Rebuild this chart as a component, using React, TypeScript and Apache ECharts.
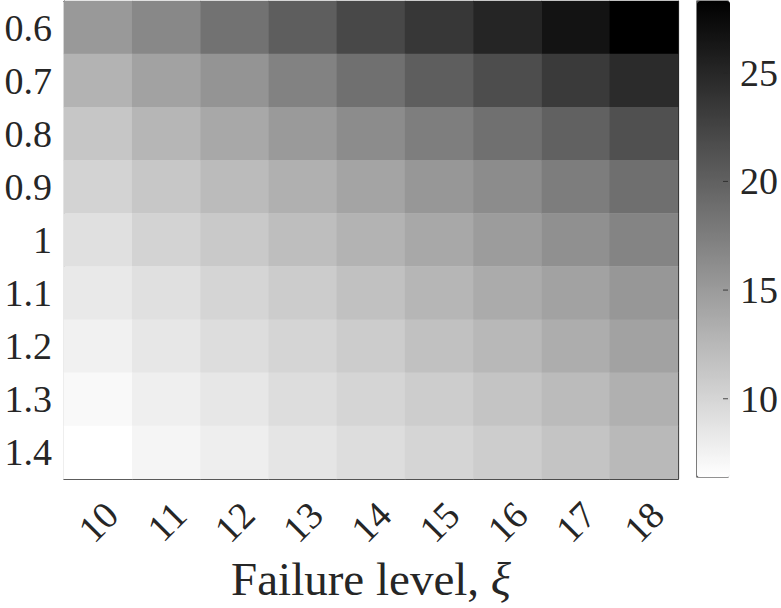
import React, { useEffect, useRef } from "react";
import * as echarts from "echarts";

const xCategories = ["10", "11", "12", "13", "14", "15", "16", "17", "18"];
const yCategories = ["0.6", "0.7", "0.8", "0.9", "1", "1.1", "1.2", "1.3", "1.4"];

const row06 = [15.2, 16.6, 18.5, 20.2, 22.1, 23.6, 25.1, 26.7, 28.3];
const row07 = [12.9, 14.4, 15.6, 17.1, 18.7, 20.2, 21.7, 23.3, 24.6];
const row08 = [11.3, 12.7, 13.9, 15.1, 16.3, 17.5, 18.7, 20.0, 21.4];
const row09 = [10.2, 11.2, 12.2, 13.2, 14.2, 15.3, 16.3, 17.6, 18.8];
const row10 = [9.1, 10.2, 11.0, 12.0, 12.9, 13.9, 14.9, 15.9, 17.0];
const row11 = [8.3, 9.1, 10.0, 10.8, 11.7, 12.7, 13.6, 14.4, 15.3];
const row12 = [7.6, 8.5, 9.3, 10.0, 10.8, 11.7, 12.5, 13.4, 14.4];
const row13 = [6.9, 7.8, 8.5, 9.3, 10.0, 10.7, 11.5, 12.2, 13.2];
const row14 = [6.4, 7.3, 7.9, 8.6, 9.3, 10.0, 10.7, 11.5, 12.4];

const rows = [row06, row07, row08, row09, row10, row11, row12, row13, row14];

const colorMin = 6.4;
const colorMax = 28.3;
const colorbarTicks = [10, 15, 20, 25];

const FONT = "Liberation Serif";
const INK = "#262626";

export default function App() {
  const ref = useRef<HTMLDivElement>(null);

  useEffect(() => {
    document.body.style.margin = "0";
    if (!ref.current) return;
    const chart = echarts.init(ref.current, undefined, { renderer: "svg" });

    const data: [number, number, number][] = [];
    rows.forEach((row, yi) => {
      row.forEach((v, xi) => data.push([xi, yi, v]));
    });

    const tickMarks = colorbarTicks.map((t) => [1, t]);

    const tickStyle = { show: true, inside: true, length: 7, alignWithLabel: true, interval: 0, lineStyle: { color: INK, width: 1 } };
    const lineStyle = { show: true, lineStyle: { color: INK, width: 1.2 } };

    chart.setOption({
      animation: false,
      textStyle: { fontFamily: FONT },
      grid: [
        { left: 64, top: 1, width: 614, height: 478, show: false },
        { left: 697, top: 1, width: 33, height: 476, show: true, borderColor: INK, borderWidth: 1.2, backgroundColor: "transparent" },
      ],
      xAxis: [
        {
          type: "category",
          gridIndex: 0,
          data: xCategories,
          position: "bottom",
          axisLine: lineStyle,
          axisTick: tickStyle,
          splitLine: { show: false },
          axisLabel: {
            interval: 0,
            rotate: 45,
            fontSize: 38,
            color: INK,
            fontFamily: FONT,
            margin: 16,
            verticalAlign: "top",
          },
          name: "Failure level, {i|ξ}",
          nameLocation: "middle",
          nameGap: 76,
          nameTextStyle: {
            fontSize: 47,
            color: INK,
            fontFamily: FONT,
            rich: { i: { fontSize: 47, fontStyle: "italic", fontFamily: FONT, color: INK } },
          },
        },
        {
          type: "category",
          gridIndex: 0,
          data: xCategories,
          position: "top",
          axisLine: lineStyle,
          axisTick: tickStyle,
          axisLabel: { show: false },
          splitLine: { show: false },
        },
        { type: "value", gridIndex: 1, show: false, min: 0, max: 1 },
      ],
      yAxis: [
        {
          type: "category",
          gridIndex: 0,
          data: yCategories,
          inverse: true,
          position: "left",
          axisLine: lineStyle,
          axisTick: tickStyle,
          splitLine: { show: false },
          axisLabel: { interval: 0, fontSize: 38, color: INK, fontFamily: FONT, margin: 12 },
        },
        {
          type: "category",
          gridIndex: 0,
          data: yCategories,
          inverse: true,
          position: "right",
          axisLine: lineStyle,
          axisTick: tickStyle,
          axisLabel: { show: false },
          splitLine: { show: false },
        },
        {
          type: "value",
          gridIndex: 1,
          min: colorMin,
          max: colorMax,
          position: "right",
          axisLine: { show: false },
          splitLine: { show: false },
          axisTick: { show: false },
          axisLabel: { show: true, customValues: colorbarTicks, fontSize: 38, color: INK, fontFamily: FONT, margin: 12 },
        },
      ],
      visualMap: {
        type: "continuous",
        seriesIndex: 0,
        min: colorMin,
        max: colorMax,
        calculable: false,
        hoverLink: false,
        orient: "vertical",
        left: 697,
        top: 1,
        itemWidth: 33,
        itemHeight: 476,
        padding: 0,
        inRange: { color: ["#ffffff", "#000000"] },
        showLabel: false,
      },
      series: [
        {
          type: "heatmap",
          xAxisIndex: 0,
          yAxisIndex: 0,
          data,
          itemStyle: { borderWidth: 0 },
          emphasis: { disabled: true },
          silent: true,
        },
        {
          type: "scatter",
          xAxisIndex: 2,
          yAxisIndex: 2,
          data: tickMarks,
          symbol: "rect",
          symbolSize: [5, 1],
          symbolOffset: [-2.5, 0],
          itemStyle: { color: INK },
          silent: true,
          z: 10,
        },
      ],
    });

    return () => chart.dispose();
  }, []);

  return <div ref={ref} style={{ width: 781, height: 608 }} />;
}
